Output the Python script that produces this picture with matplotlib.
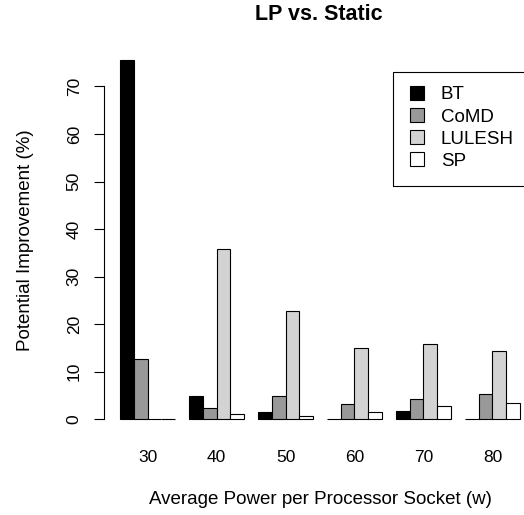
import numpy as np
import matplotlib
matplotlib.use("Agg")
import matplotlib.pyplot as plt
from matplotlib.patches import Rectangle

plt.rcParams["font.family"] = ["Liberation Sans", "DejaVu Sans"]

powers = ["30", "40", "50", "60", "70", "80"]
benchmarks = ["BT", "CoMD", "LULESH", "SP"]
bt = [75.5, 4.9, 1.6, 0.0, 1.7, 0.0]
comd = [12.6, 2.4, 5.0, 3.15, 4.3, 5.25]
lulesh = [0.0, 35.9, 22.7, 14.9, 15.8, 14.4]
sp = [0.0, 1.05, 0.6, 1.5, 2.9, 3.4]
colors = ["#000000", "#999999", "#d3d3d3", "#ffffff"]

W, H = 524, 515
FS = 13.5
TICK_FS = 12.5
fig = plt.figure(figsize=(W / 100, H / 100), dpi=100)
ax = fig.add_axes([104 / W, 1 - 433.7 / H, 432 / W, 387.7 / H])

series = [bt, comd, lulesh, sp]
n_groups = len(powers)
starts = np.arange(n_groups) * 5 + 1
for i, (vals, col, name) in enumerate(zip(series, colors, benchmarks)):
    ax.bar(starts + i, vals, width=1, align="edge", color=col,
           edgecolor="black", linewidth=0.8, label=name, clip_on=False)

ax.set_xlim(-0.16, 31.16)
ax.set_ylim(-3.02, 78.5)

for s in ["top", "right", "bottom"]:
    ax.spines[s].set_visible(False)
ax.spines["left"].set_bounds(0, 70)
ax.spines["left"].set_linewidth(0.8)

ax.set_yticks(range(0, 71, 10))
ax.tick_params(axis="y", length=7.5, width=0.8, labelsize=TICK_FS, pad=8.5,
               labelrotation=90)
for lab in ax.get_yticklabels():
    lab.set_verticalalignment("center")

ax.set_xticks(starts + 2)
ax.set_xticklabels(powers)
ax.tick_params(axis="x", length=0, labelsize=TICK_FS, pad=12)

fig.text(319 / W, 1 - 14 / H, "LP vs. Static", ha="center", va="center",
         fontsize=15.5, fontweight="bold")
fig.text(320 / W, 1 - 500 / H, "Average Power per Processor Socket (w)",
         ha="center", va="center", fontsize=FS)
fig.text(26 / W, 1 - 240 / H, "Potential Improvement (%)", ha="center",
         va="center", rotation=90, fontsize=FS)

# legend frame (runs past the right edge like the original)
fig.patches.append(Rectangle((393 / W, 1 - 186 / H), 150 / W, 114 / H,
                             transform=fig.transFigure, fill=False,
                             edgecolor="black", linewidth=0.8))
leg = ax.legend(loc="upper left", bbox_to_anchor=(410 / W, 1 - 86 / H),
                bbox_transform=fig.transFigure, frameon=False, fontsize=FS,
                handlelength=0.75, handleheight=0.75, handletextpad=0.9,
                labelspacing=0.25, borderpad=0, borderaxespad=0)

fig.savefig("out.png", dpi=100)
